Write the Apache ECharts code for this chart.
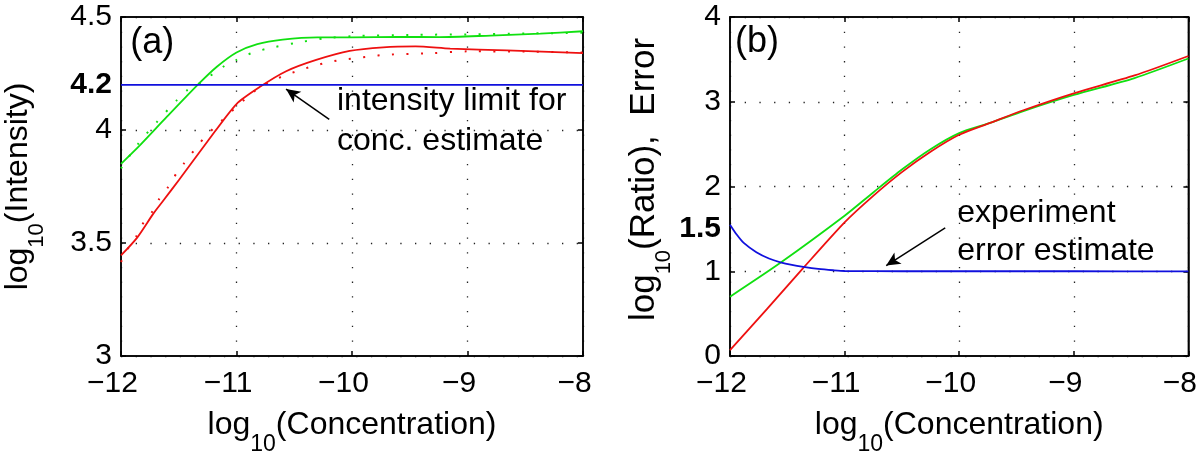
<!DOCTYPE html>
<html><head><meta charset="utf-8">
<script src="https://cdn.jsdelivr.net/npm/echarts@6/dist/echarts.min.js"></script>
<style>html,body{margin:0;padding:0;background:#fff}#c{width:1200px;height:464px}</style>
</head><body><div id="c"></div>
<script>
// ---------- tick labels ----------
const xTicks = [-12, -11, -10, -9, -8];
const yTicksA = [3, 3.5, 4, 4.2, 4.5];
const yTicksB = [0, 1, 1.5, 2, 3, 4];
const boldTicks = [4.2, 1.5];

// ---------- panel (a): log10(Intensity) ----------
const aGreenSolidX = [-12, -11.85, -11.6, -11.33, -11.17, -11.0, -10.82, -10.6, -10.3, -10.0, -9.6, -9.24, -8.8, -8.37, -8.0];
const aGreenSolidY = [3.85, 3.925, 4.06, 4.203, 4.28, 4.343, 4.38, 4.40, 4.41, 4.41, 4.412, 4.411, 4.418, 4.426, 4.437];
const aGreenDotX = [-12, -11.85, -11.69, -11.52, -11.43, -11.31, -11.1, -11.0, -10.87, -10.75, -10.49, -10.24, -10.0, -9.5, -9.0, -8.5, -8.0];
const aGreenDotY = [3.83, 3.94, 4.035, 4.13, 4.175, 4.21, 4.285, 4.31, 4.34, 4.358, 4.385, 4.405, 4.415, 4.421, 4.423, 4.427, 4.43];
const aRedSolidX = [-12, -11.86, -11.72, -11.63, -11.5, -11.25, -11.0, -10.8, -10.57, -10.31, -10.02, -9.73, -9.45, -9.15, -8.66, -8.0];
const aRedSolidY = [3.445, 3.524, 3.63, 3.69, 3.778, 3.95, 4.115, 4.19, 4.26, 4.31, 4.35, 4.366, 4.37, 4.36, 4.352, 4.34];
const aRedDotX = [-12, -11.94, -11.87, -11.81, -11.73, -11.67, -11.59, -11.52, -11.45, -11.37, -11.29, -11.2, -10.92, -10.83, -10.72, -10.59, -10.46, -10.33, -10.21, -10.1, -9.97, -9.84, -9.71, -9.3, -9.0, -8.5, -8.0];
const aRedDotY = [3.416, 3.475, 3.527, 3.586, 3.638, 3.694, 3.749, 3.808, 3.855, 3.908, 3.959, 4.007, 4.14, 4.177, 4.21, 4.24, 4.263, 4.284, 4.299, 4.31, 4.318, 4.325, 4.333, 4.34, 4.348, 4.347, 4.343];
const aBlueX = [-12, -8];
const aBlueY = [4.2, 4.2];

// ---------- panel (b): log10(Ratio), Error ----------
const bRedX = [-12, -11.68, -11.36, -11.0, -10.75, -10.5, -10.25, -10.0, -9.73, -9.44, -9.0, -8.47, -8.0];
const bRedY = [0.07, 0.55, 1.04, 1.577, 1.89, 2.17, 2.41, 2.61, 2.75, 2.90, 3.10, 3.31, 3.54];
const bGreenX = [-12, -11.56, -11.0, -10.75, -10.5, -10.25, -10.0, -9.73, -9.44, -9.0, -8.47, -8.0];
const bGreenY = [0.70, 1.10, 1.655, 1.93, 2.20, 2.44, 2.63, 2.75, 2.89, 3.08, 3.28, 3.51];
const bBlueX = [-12, -11.94, -11.88, -11.77, -11.66, -11.56, -11.46, -11.36, -11.23, -11.1, -11.0, -10.5, -10.0, -9.0, -8.0];
const bBlueY = [1.55, 1.43, 1.334, 1.224, 1.15, 1.106, 1.075, 1.052, 1.028, 1.012, 1.003, 1.0, 1.0, 1.0, 0.998];

// ---------- annotations (data coordinates) ----------
const annA = { label: '(a)', labelPos: [-11.92, 4.463], text: 'intensity limit for\nconc. estimate', textPos: [-10.13, 4.214],
  arrowTail: [-10.197, 4.047], arrowHead: [-10.571, 4.181] };
const annB = { label: '(b)', labelPos: [-11.957, 3.914], text: 'experiment\nerror estimate', textPos: [-10.017, 1.905],
  arrowTail: [-10.122, 1.511], arrowHead: [-10.637, 1.067] };

const FONT = '"Liberation Sans", Arial, Helvetica, sans-serif';
const GREEN = '#10e010', RED = '#ee1010', BLUE = '#1010dd';
const pairs = (xs, ys) => xs.map((x, i) => [x, ys[i]]);
const fmtX = v => (v < 0 ? '\u2212' + (-v) : String(v));
const fmtY = v => (boldTicks.indexOf(v) >= 0 ? '{b|' + v + '}' : '{n|' + v + '}');

const grids = [
  { left: 121, top: 17, width: 462, height: 339, show: true, borderColor: '#000', borderWidth: 1.5 },
  { left: 730, top: 17, width: 460, height: 339, show: true, borderColor: '#000', borderWidth: 1.5 }
];

function xAx(gi, top) {
  return {
    type: 'value', gridIndex: gi, position: top ? 'top' : 'bottom', min: -12, max: -8, interval: 1,
    axisLine: { show: true, onZero: false, lineStyle: { color: '#000', width: 1.5 } },
    axisTick: { show: true, inside: true, length: 5, lineStyle: { color: '#000', width: 1.5 } },
    axisLabel: top ? { show: false } : {
      show: true, customValues: xTicks, margin: 13, fontSize: 30, color: '#000', fontFamily: FONT,
      padding: [0, 17, 0, 0], formatter: fmtX
    },
    splitLine: top ? { show: false } : { show: true, lineStyle: { color: '#222', width: 1.3, type: [1.3, 13.4] } },
    name: top ? '' : '{m|log}{s|10}{m|(Concentration)}',
    nameLocation: 'middle', nameGap: 53,
    nameTextStyle: { rich: {
      m: { fontSize: 32, lineHeight: 32, verticalAlign: 'top', fontFamily: FONT, color: '#000' },
      s: { fontSize: 23, lineHeight: 47, verticalAlign: 'bottom', fontFamily: FONT, color: '#000' }
    } }
  };
}
function yAx(gi, right, min, max, interval, ticks, name, gap, pad, fs) {
  return {
    type: 'value', gridIndex: gi, position: right ? 'right' : 'left', min: min, max: max, interval: interval,
    axisLine: { show: true, onZero: false, lineStyle: { color: '#000', width: 1.5 } },
    axisTick: { show: true, inside: true, length: 5, lineStyle: { color: '#000', width: 1.5 } },
    axisLabel: right ? { show: false } : {
      show: true, customValues: ticks, margin: 9, formatter: fmtY,
      rich: {
        n: { fontSize: 30, fontFamily: FONT, color: '#000' },
        b: { fontSize: 30, fontWeight: 'bold', fontFamily: FONT, color: '#000' }
      }
    },
    splitLine: right ? { show: false } : { show: true, lineStyle: { color: '#222', width: 1.3, type: [1.3, 13.4] } },
    name: right ? '' : name,
    nameLocation: 'middle', nameGap: gap,
    nameTextStyle: { padding: pad, rich: {
      m: { fontSize: fs, lineHeight: fs, verticalAlign: 'top', fontFamily: FONT, color: '#000' },
      s: { fontSize: 22, lineHeight: fs + 14, verticalAlign: 'bottom', fontFamily: FONT, color: '#000' }
    } }
  };
}
function line(name, xi, yi, data, color, dotted, extra) {
  const s = {
    name: name, type: 'line', xAxisIndex: xi, yAxisIndex: yi, data: data, showSymbol: false, symbol: 'none',
    smooth: 0.25, clip: true,
    lineStyle: { color: color, width: dotted ? 2 : 1.8, type: dotted ? [2, 12.5] : 'solid' },
    emphasis: { disabled: true }
  };
  return Object.assign(s, extra || {});
}
function arrow(tail, head) {
  return {
    silent: true, animation: false, label: { show: false },
    lineStyle: { color: '#000', width: 1.5, type: 'solid' },
    data: [[{ coord: tail, symbol: 'none' }, { coord: head, symbol: 'arrow', symbolSize: [10, 14] }]]
  };
}

const option = {
  animation: false,
  backgroundColor: '#fff',
  grid: grids,
  xAxis: [xAx(0, false), xAx(0, true), xAx(1, false), xAx(1, true)],
  yAxis: [
    yAx(0, false, 3, 4.5, 0.5, yTicksA, '{m|log}{s|10}{m|(Intensity)}', 73, [0, 0, 0, 0], 32),
    yAx(0, true, 3, 4.5, 0.5, yTicksA, '', 0, [0, 0, 0, 0], 32),
    yAx(1, false, 0, 4, 1, yTicksB, '{m|log}{s|10}{m|(Ratio),  Error}', 40, [0, 0, 0, 14], 35),
    yAx(1, true, 0, 4, 1, yTicksB, '', 0, [0, 0, 0, 0], 32)
  ],
  series: [
    line('a green dotted', 0, 0, pairs(aGreenDotX, aGreenDotY), GREEN, true),
    line('a red dotted', 0, 0, pairs(aRedDotX, aRedDotY), RED, true),
    line('a green', 0, 0, pairs(aGreenSolidX, aGreenSolidY), GREEN, false),
    line('a red', 0, 0, pairs(aRedSolidX, aRedSolidY), RED, false),
    line('a blue', 0, 0, pairs(aBlueX, aBlueY), BLUE, false, { smooth: false, markLine: arrow(annA.arrowTail, annA.arrowHead) }),
    line('b green', 2, 2, pairs(bGreenX, bGreenY), GREEN, false),
    line('b red', 2, 2, pairs(bRedX, bRedY), RED, false),
    line('b blue', 2, 2, pairs(bBlueX, bBlueY), BLUE, false, { markLine: arrow(annB.arrowTail, annB.arrowHead) })
  ]
};

const chart = echarts.init(document.getElementById('c'), null, { renderer: 'canvas' });
chart.setOption(option);

function px(gi, pt) { return chart.convertToPixel({ xAxisIndex: gi * 2, yAxisIndex: gi * 2 }, pt); }
const graphics = [];
[annA, annB].forEach((a, gi) => {
  const lp = px(gi, a.labelPos);
  graphics.push({ type: 'text', x: lp[0], y: lp[1], silent: true,
    style: { text: a.label, fontSize: 36, fontFamily: FONT, fill: '#000', lineHeight: 36, align: 'left', verticalAlign: 'top' } });
  const tp = px(gi, a.textPos);
  graphics.push({ type: 'text', x: tp[0], y: tp[1], silent: true,
    style: { text: a.text, fontSize: 32, fontFamily: FONT, fill: '#000', lineHeight: gi === 0 ? 40 : 38, align: 'left', verticalAlign: 'top' } });
});
chart.setOption({ graphic: graphics });
</script></body></html>
